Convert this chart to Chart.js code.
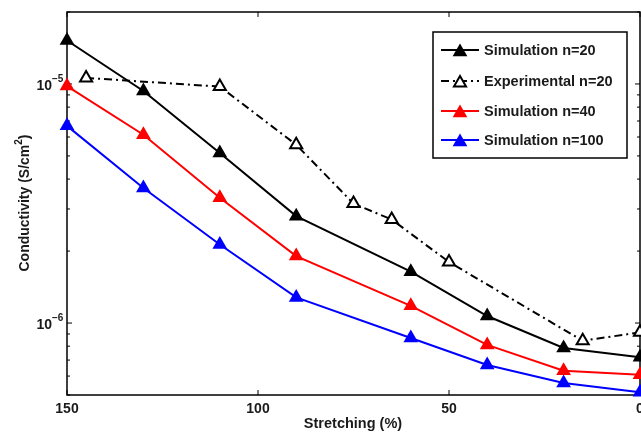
<!DOCTYPE html>
<html>
<head>
<meta charset="utf-8">
<script src="https://cdn.jsdelivr.net/npm/chart.js@4.4.1/dist/chart.umd.min.js"></script>
<style>
  html, body { margin: 0; padding: 0; background: #fff; }
  #wrap { width: 641px; height: 433px; }
</style>
</head>
<body>
<div id="wrap"><canvas id="chart" width="641" height="433"></canvas></div>
<script>
// stretching (%) positions
const simX = [150, 130, 110, 90, 60, 40, 20, 0];
const expX = [145, 110, 90, 75, 65, 50, 15, 0];

// conductivity (S/cm^2)
const simN20 = [1.52e-5, 9.35e-6, 5.14e-6, 2.80e-6, 1.64e-6, 1.07e-6, 7.87e-7, 7.20e-7];
const expN20 = [1.06e-5, 9.75e-6, 5.57e-6, 3.16e-6, 2.71e-6, 1.80e-6, 8.43e-7, 9.14e-7];
const simN40 = [9.8e-6, 6.13e-6, 3.34e-6, 1.905e-6, 1.18e-6, 8.10e-7, 6.32e-7, 6.07e-7];
const simN100 = [6.68e-6, 3.67e-6, 2.13e-6, 1.28e-6, 8.66e-7, 6.68e-7, 5.61e-7, 5.14e-7];

const seriesNames = ["Simulation n=20", "Experimental n=20", "Simulation n=40", "Simulation n=100"];

const xTicks = [150, 100, 50, 0];
const yDecades = [-6, -5];
const yMin = 5e-7, yMax = 2e-5;

const FONT = "'Liberation Sans', Arial, sans-serif";

function pts(xs, ys) {
    return xs.map((v, i) => ({ x: v, y: ys[i] }));
}

function tri(ctx, x, y, r, fill, stroke, lw) {
    ctx.beginPath();
    ctx.moveTo(x, y - r);
    ctx.lineTo(x + r * 0.866, y + r * 0.5);
    ctx.lineTo(x - r * 0.866, y + r * 0.5);
    ctx.closePath();
    ctx.fillStyle = fill;
    ctx.fill();
    if (stroke) {
        ctx.lineWidth = lw;
        ctx.strokeStyle = stroke;
        ctx.stroke();
    }
}

const framePlugin = {
    id: "frame",
    beforeDatasetsDraw(chart) {
        const { ctx, chartArea: a, scales: { x, y } } = chart;
        ctx.save();
        ctx.strokeStyle = "#000";
        ctx.lineWidth = 1.5;
        ctx.strokeRect(a.left, a.top, a.right - a.left, a.bottom - a.top);
        ctx.lineWidth = 1;
        ctx.beginPath();
        xTicks.forEach(v => {
            const px = x.getPixelForValue(v);
            ctx.moveTo(px, a.bottom); ctx.lineTo(px, a.bottom - 5);
            ctx.moveTo(px, a.top); ctx.lineTo(px, a.top + 5);
        });
        for (let e = -7; e <= -4; e++) {
            for (let m = 1; m <= 9; m++) {
                const v = m * Math.pow(10, e);
                if (v < yMin * 0.999 || v > yMax * 1.001) continue;
                const py = y.getPixelForValue(v);
                const len = m === 1 ? 5 : 3;
                ctx.moveTo(a.left, py); ctx.lineTo(a.left + len, py);
                ctx.moveTo(a.right, py); ctx.lineTo(a.right - len, py);
            }
        }
        ctx.stroke();
        ctx.restore();
    },
    afterDraw(chart) {
        const { ctx, chartArea: a, scales: { x, y } } = chart;
        ctx.save();
        ctx.fillStyle = "#1a1a1a";

        // x tick labels
        ctx.font = "bold 14px " + FONT;
        ctx.textAlign = "center";
        ctx.textBaseline = "middle";
        xTicks.forEach(v => {
            ctx.fillText(String(v), x.getPixelForValue(v), 409);
        });

        // y tick labels 10^n
        yDecades.forEach(e => {
            const py = y.getPixelForValue(Math.pow(10, e));
            ctx.font = "bold 14px " + FONT;
            ctx.textAlign = "right";
            ctx.textBaseline = "middle";
            ctx.fillText("10", 52, py + 2);
            ctx.font = "bold 10px " + FONT;
            ctx.textAlign = "left";
            ctx.fillText("\u2212" + Math.abs(e), 52, py - 5);
        });

        // axis titles
        ctx.font = "bold 14.5px " + FONT;
        ctx.textAlign = "center";
        ctx.textBaseline = "middle";
        ctx.fillText("Stretching (%)", 353, 424);

        ctx.save();
        ctx.translate(25, 203);
        ctx.rotate(-Math.PI / 2);
        const p1 = "Conductivity (S/cm", p2 = "2", p3 = ")";
        ctx.font = "bold 14px " + FONT;
        const w1 = ctx.measureText(p1).width, w3 = ctx.measureText(p3).width;
        ctx.font = "bold 10px " + FONT;
        const w2 = ctx.measureText(p2).width;
        let sx = -(w1 + w2 + w3) / 2;
        ctx.textAlign = "left";
        ctx.font = "bold 14px " + FONT;
        ctx.fillText(p1, sx, 0);
        ctx.font = "bold 10px " + FONT;
        ctx.fillText(p2, sx + w1, -6);
        ctx.font = "bold 14px " + FONT;
        ctx.fillText(p3, sx + w1 + w2, 0);
        ctx.restore();

        // legend box
        const bx = 433, by = 32, bw = 194, bh = 126;
        ctx.fillStyle = "#fff";
        ctx.fillRect(bx, by, bw, bh);
        ctx.strokeStyle = "#000";
        ctx.lineWidth = 1.5;
        ctx.strokeRect(bx, by, bw, bh);
        const rows = [50, 81, 111, 140];
        chart.data.datasets.forEach((ds, i) => {
            const ry = rows[i];
            ctx.save();
            ctx.strokeStyle = ds.borderColor;
            ctx.lineWidth = ds.borderWidth;
            ctx.setLineDash(ds.borderDash || []);
            ctx.beginPath();
            ctx.moveTo(441, ry); ctx.lineTo(479, ry);
            ctx.stroke();
            ctx.restore();
            if (ds.pointBackgroundColor === "#fff") {
                tri(ctx, 460, ry + 2, 7, "#fff", "#000", 2);
            } else {
                tri(ctx, 460, ry + 2, 8.5, ds.pointBackgroundColor);
            }
            ctx.fillStyle = "#1a1a1a";
            ctx.font = "bold 14.5px " + FONT;
            ctx.textAlign = "left";
            ctx.textBaseline = "middle";
            ctx.fillText(ds.label, 484, ry + 1);
        });
        ctx.restore();
    }
};

new Chart(document.getElementById("chart"), {
    type: "line",
    data: {
        datasets: [
            {
                label: seriesNames[0], data: pts(simX, simN20),
                borderColor: "#000", borderWidth: 2, pointStyle: "triangle",
                pointRadius: 8.5, pointBackgroundColor: "#000", pointBorderWidth: 0
            },
            {
                label: seriesNames[1], data: pts(expX, expN20),
                borderColor: "#000", borderWidth: 2, borderDash: [8, 4, 2, 4],
                pointStyle: "triangle", pointRadius: 7, pointBackgroundColor: "#fff",
                pointBorderColor: "#000", pointBorderWidth: 2
            },
            {
                label: seriesNames[2], data: pts(simX, simN40),
                borderColor: "#ff0000", borderWidth: 2, pointStyle: "triangle",
                pointRadius: 8.5, pointBackgroundColor: "#ff0000", pointBorderWidth: 0
            },
            {
                label: seriesNames[3], data: pts(simX, simN100),
                borderColor: "#0000ff", borderWidth: 2, pointStyle: "triangle",
                pointRadius: 8.5, pointBackgroundColor: "#0000ff", pointBorderWidth: 0
            }
        ]
    },
    options: {
        responsive: false,
        animation: false,
        layout: { autoPadding: false, padding: { left: 67, top: 12, right: 1, bottom: 38 } },
        elements: { line: { tension: 0 } },
        datasets: { line: { clip: false } },
        plugins: { legend: { display: false }, tooltip: { enabled: false } },
        scales: {
            x: { type: "linear", display: false, min: 0, max: 150, reverse: true },
            y: { type: "logarithmic", display: false, min: yMin, max: yMax }
        }
    },
    plugins: [framePlugin]
});
</script>
</body>
</html>
